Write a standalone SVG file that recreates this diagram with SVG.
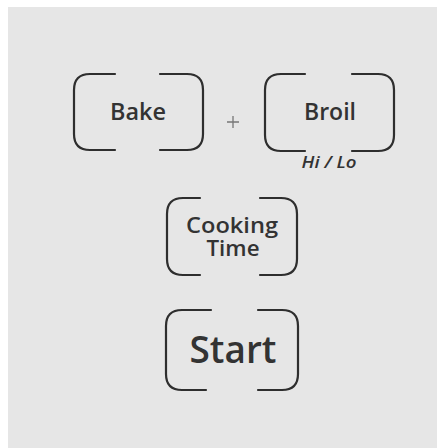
<svg xmlns="http://www.w3.org/2000/svg" width="437" height="448" viewBox="0 0 437 448">
<style>
.br{fill:none;stroke:#2e2e2e;stroke-width:2.2;stroke-linecap:round}
.t{font-family:"Open Sans","Liberation Sans",sans-serif;font-weight:600;fill:#333;text-anchor:middle}
</style>
<rect width="437" height="448" fill="#ffffff"/>
<rect x="8" y="7" width="429" height="441" fill="#e6e6e6"/>
<g id="bake">
<path class="br" d="M115,74 H90 Q74,74 74,90 V134 Q74,150 90,150 H115"/>
<path class="br" d="M160,74 H187 Q203,74 203,90 V134 Q203,150 187,150 H160"/>
<text class="t" x="138" y="120" font-size="24" textLength="56" lengthAdjust="spacingAndGlyphs">Bake</text>
</g>
<g id="plus">
<path d="M227,122 H239 M233,116 V128" stroke="#777" stroke-width="1.3" fill="none"/>
</g>
<g id="broil">
<path class="br" d="M305,74 H281 Q265,74 265,90 V135 Q265,151 281,151 H305"/>
<path class="br" d="M352,74 H378 Q394,74 394,90 V135 Q394,151 378,151 H352"/>
<text class="t" x="330" y="120" font-size="23" textLength="52" lengthAdjust="spacingAndGlyphs">Broil</text>
<text class="t" x="329" y="168" font-size="16" font-style="italic" font-weight="bold" textLength="55" lengthAdjust="spacingAndGlyphs">Hi / Lo</text>
</g>
<g id="cooking-time">
<path class="br" d="M200,198 H183 Q167,198 167,214 V259 Q167,275 183,275 H200"/>
<path class="br" d="M260,198 H281 Q297,198 297,214 V259 Q297,275 281,275 H260"/>
<text class="t" x="232" y="233" font-size="21" textLength="92" lengthAdjust="spacingAndGlyphs">Cooking</text>
<text class="t" x="233" y="256" font-size="21" textLength="53" lengthAdjust="spacingAndGlyphs">Time</text>
</g>
<g id="start">
<path class="br" d="M211,310 H182 Q166,310 166,326 V374 Q166,390 182,390 H206"/>
<path class="br" d="M258,310 H282 Q298,310 298,326 V374 Q298,390 282,390 H258"/>
<text class="t" x="233" y="363" font-size="37" textLength="87" lengthAdjust="spacingAndGlyphs">Start</text>
</g>
</svg>
